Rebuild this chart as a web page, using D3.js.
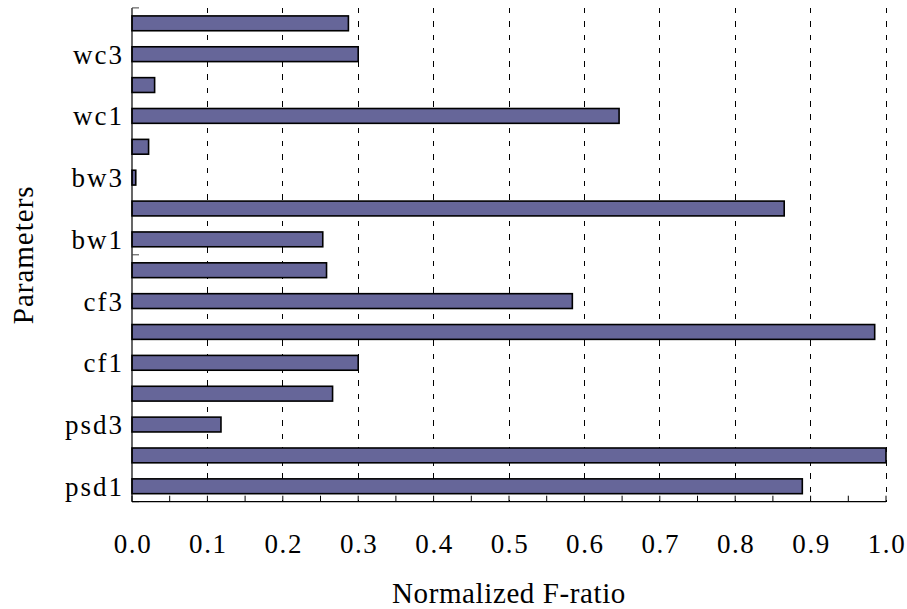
<!DOCTYPE html>
<html>
<head>
<meta charset="utf-8">
<script src="https://cdn.jsdelivr.net/npm/d3@7"></script>
<style>
  html, body { margin: 0; padding: 0; background: #fff; }
  svg { display: block; font-family: "Liberation Serif", "Times New Roman", serif; }
</style>
</head>
<body>
<svg id="chart" width="907" height="609"></svg>
<script>
// Parameters, listed top to bottom as they appear on the category axis
const categories = ["wc4", "wc3", "wc2", "wc1", "bw4", "bw3", "bw2", "bw1",
                    "cf4", "cf3", "cf2", "cf1", "psd4", "psd3", "psd2", "psd1"];
// Normalized F-ratio per parameter (same order)
const fRatio = [0.287, 0.300, 0.030, 0.646, 0.022, 0.005, 0.865, 0.253,
                0.258, 0.584, 0.985, 0.300, 0.266, 0.118, 1.000, 0.889];
// Only every other parameter gets a label
const labelledCategories = ["wc3", "wc1", "bw3", "bw1", "cf3", "cf1", "psd3", "psd1"];
const xTicks = [0, 0.1, 0.2, 0.3, 0.4, 0.5, 0.6, 0.7, 0.8, 0.9, 1.0];
const xMinorTicks = d3.range(0, 1.0001, 0.05);

const svg = d3.select("#chart");
const plotLeft = 132, plotRight = 886, plotTop = 7.9, plotBottom = 501.7;

const x = d3.scaleLinear().domain([0, 1]).range([plotLeft, plotRight]);
const y = d3.scaleBand().domain(categories).range([plotTop, plotBottom])
  .paddingInner(0.52).paddingOuter(0.26);
const step = y.step();

// dashed vertical gridlines
svg.append("g").selectAll("line")
  .data(xTicks.filter(d => d > 0))
  .join("line")
  .attr("x1", d => x(d)).attr("x2", d => x(d))
  .attr("y1", plotTop).attr("y2", plotBottom)
  .attr("stroke", "#000").attr("stroke-width", 1)
  .attr("stroke-dasharray", "5.5,7.8")
  .attr("shape-rendering", "crispEdges");

// bars
svg.append("g").selectAll("rect")
  .data(categories.map((c, i) => ({ c, v: fRatio[i] })))
  .join("rect")
  .attr("x", x(0))
  .attr("y", d => y(d.c))
  .attr("width", d => x(d.v) - x(0))
  .attr("height", y.bandwidth())
  .attr("fill", "#666699")
  .attr("stroke", "#000")
  .attr("stroke-width", 1.6);

// category (vertical) axis line and its tick marks
svg.append("line")
  .attr("x1", plotLeft).attr("x2", plotLeft).attr("y1", plotTop).attr("y2", plotBottom)
  .attr("stroke", "#000").attr("stroke-width", 1.2);
svg.append("g").selectAll("line")
  .data([0, 8, 16])
  .join("line")
  .attr("x1", plotLeft).attr("x2", plotLeft + 7)
  .attr("y1", k => plotTop + k * step).attr("y2", k => plotTop + k * step)
  .attr("stroke", "#444").attr("stroke-width", 1);

// value (horizontal) axis line, major and minor tick marks
svg.append("line")
  .attr("x1", plotLeft).attr("x2", plotRight).attr("y1", plotBottom).attr("y2", plotBottom)
  .attr("stroke", "#000").attr("stroke-width", 1.2);
svg.append("g").selectAll("line")
  .data(xMinorTicks)
  .join("line")
  .attr("x1", d => x(d)).attr("x2", d => x(d))
  .attr("y1", plotBottom).attr("y2", plotBottom - 6)
  .attr("stroke", "#000").attr("stroke-width", 1);

// value tick labels
svg.append("g").selectAll("text")
  .data(xTicks)
  .join("text")
  .attr("x", d => x(d) + 1).attr("y", 553)
  .attr("text-anchor", "middle")
  .attr("font-size", 27)
  .attr("letter-spacing", 1.6)
  .attr("fill", "#000")
  .text(d => d3.format(".1f")(d));

// category labels
svg.append("g").selectAll("text")
  .data(labelledCategories)
  .join("text")
  .attr("x", 124)
  .attr("y", d => y(d) + y.bandwidth() / 2)
  .attr("dy", "0.35em")
  .attr("text-anchor", "end")
  .attr("font-size", 27)
  .attr("letter-spacing", 2)
  .attr("fill", "#000")
  .text(d => d);

// axis titles
svg.append("text")
  .attr("x", (plotLeft + plotRight) / 2).attr("y", 603)
  .attr("text-anchor", "middle")
  .attr("font-size", 29)
  .attr("letter-spacing", 0.6)
  .attr("fill", "#000")
  .text("Normalized F-ratio");

svg.append("text")
  .attr("transform", `translate(33, ${(plotTop + plotBottom) / 2}) rotate(-90)`)
  .attr("text-anchor", "middle")
  .attr("font-size", 29)
  .attr("letter-spacing", 1)
  .attr("fill", "#000")
  .text("Parameters");
</script>
</body>
</html>
